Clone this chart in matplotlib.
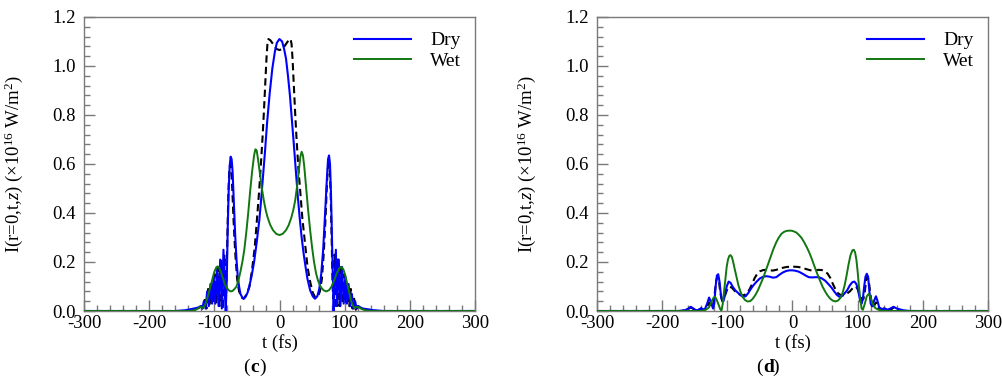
import numpy as np
import matplotlib
matplotlib.use("Agg")
import matplotlib.pyplot as plt
from matplotlib.ticker import MultipleLocator

plt.rcParams['font.family'] = ['Liberation Serif', 'DejaVu Serif']
plt.rcParams['mathtext.fontset'] = 'custom'
plt.rcParams['mathtext.rm'] = 'Liberation Serif'
plt.rcParams['mathtext.it'] = 'Liberation Serif:italic'
plt.rcParams['mathtext.bf'] = 'Liberation Serif:bold'
plt.rcParams['axes.unicode_minus'] = False

# ---------------- panel (c) ----------------
c_dry_t = [-300, -160, -145, -135, -128, -124, -121, -118.5, -116, -113.5, -111, -108.5, -106, -103.5,
           -101, -98.5, -96, -93.5, -91, -88.5, -86, -84, -82.5, -81, -79.5, -78, -76.5, -75, -73.5,
           -72, -70, -68, -66, -64, -62, -60, -57, -55, -52, -49, -46, -43, -39, -35, -31, -28, -25,
           -22, -19, -15, -11, -7, -4, 0, 4, 7, 10, 13, 16, 19, 22, 25, 28, 31, 34, 37, 40, 43, 47,
           51, 54.5, 58, 61, 64, 67, 70, 72.5, 74.5, 76, 77.5, 79, 80.5, 82, 83, 84.5, 86.5, 88.5,
           91, 93.5, 96, 98.5, 101, 103.5, 106, 108.5, 111, 113.5, 116, 118.5, 121, 124, 128, 135,
           145, 160, 300]
c_dry_I = [0, 0, 0.003, 0.008, 0.012, 0.015, 0.02, 0.01, 0.04, 0.01, 0.08, 0.02, 0.11, 0.03,
           0.14, 0.03, 0.17, 0.02, 0.21, 0.01, 0.25, 0.08, 0.0, 0.12, 0.33, 0.49, 0.59, 0.63, 0.62,
           0.57, 0.44, 0.31, 0.21, 0.14, 0.1, 0.07, 0.055, 0.05, 0.058, 0.075, 0.105, 0.14, 0.2,
           0.28, 0.37, 0.46, 0.56, 0.66, 0.77, 0.89, 0.99, 1.06, 1.095, 1.11, 1.10, 1.07, 1.03,
           0.96, 0.88, 0.78, 0.68, 0.575, 0.47, 0.38, 0.3, 0.235, 0.18, 0.13, 0.085, 0.06, 0.05,
           0.06, 0.09, 0.15, 0.25, 0.4, 0.53, 0.62, 0.635, 0.6, 0.48, 0.3, 0.12, 0.0, 0.1, 0.25,
           0.02, 0.21, 0.02, 0.18, 0.03, 0.14, 0.03, 0.11, 0.02, 0.07, 0.01, 0.04, 0.01, 0.02,
           0.015, 0.01, 0.007, 0.003, 0, 0]

c_ref_t = [-300, -150, -135, -125, -120, -117, -114.5, -112, -109.5, -107, -104.5, -102, -99.5, -97,
           -94.5, -92, -89.5, -87, -84.5, -82.5, -81.5, -80, -78.5, -77, -75.5, -74, -72.5, -70.5,
           -68, -65, -62, -58, -55, -50, -46, -42, -38, -35, -31.5, -29, -26, -24, -22, -20, -18.5,
           -17, -14, -10, -5, 0, 5, 10, 14, 17, 18.5, 20, 22, 24, 26, 29, 31.5, 35, 39, 43, 47, 51,
           55, 59, 62, 65, 68, 70.5, 72.5, 74, 75.5, 77, 78.5, 80, 81.5, 82.5, 84.5, 87, 89.5, 92,
           94.5, 97, 99.5, 102, 104.5, 107, 109.5, 112, 114.5, 117, 120, 125, 135, 150, 300]
c_ref_I = [0, 0, 0.005, 0.01, 0.02, 0.005, 0.05, 0.01, 0.09, 0.02, 0.12, 0.03, 0.15, 0.03,
           0.18, 0.02, 0.21, 0.01, 0.23, 0.05, 0.1, 0.3, 0.48, 0.58, 0.6, 0.58, 0.5, 0.37,
           0.24, 0.13, 0.08, 0.055, 0.05, 0.07, 0.1, 0.17, 0.26, 0.36, 0.48, 0.58, 0.71, 0.81,
           0.92, 1.03, 1.09, 1.11, 1.105, 1.09, 1.07, 1.065, 1.07, 1.09, 1.105, 1.11, 1.09, 1.03,
           0.92, 0.81, 0.71, 0.58, 0.5, 0.38, 0.28, 0.18, 0.12, 0.075, 0.055, 0.06, 0.08, 0.13,
           0.24, 0.37, 0.5, 0.58, 0.6, 0.58, 0.48, 0.3, 0.1, 0.05, 0.23, 0.01, 0.21, 0.02, 0.18,
           0.03, 0.15, 0.03, 0.12, 0.02, 0.09, 0.01, 0.05, 0.005, 0.02, 0.01, 0.005, 0, 0]

c_wet_t = [-300, -140, -130, -125, -121, -118, -115, -112, -109, -106, -103, -100, -97, -95, -93,
           -90, -87, -84, -81, -78, -75, -72, -69, -66, -63, -60, -57, -54, -51, -48, -45, -42, -39,
           -37, -35, -33, -30, -27, -24, -21, -18, -14, -10, -5, 0, 5, 10, 14, 18, 21, 24, 27, 30,
           32, 34, 36, 38, 41, 44, 47, 50, 53, 56, 59, 62, 65, 68, 72, 76, 80, 84, 88, 92, 95, 98,
           101, 104, 107, 110, 113, 116, 119, 122, 126, 132, 140, 300]
c_wet_I = [0, 0, 0.003, 0.01, 0.018, 0.012, 0.02, 0.04, 0.07, 0.1, 0.13, 0.16, 0.178, 0.182, 0.178,
           0.16, 0.135, 0.11, 0.095, 0.085, 0.08, 0.082, 0.09, 0.1, 0.125, 0.16, 0.2, 0.25, 0.32,
           0.4, 0.49, 0.57, 0.635, 0.66, 0.655, 0.62, 0.56, 0.5, 0.45, 0.41, 0.38, 0.35, 0.33,
           0.315, 0.31, 0.315, 0.33, 0.35, 0.38, 0.41, 0.45, 0.51, 0.58, 0.63, 0.65, 0.635, 0.59,
           0.5, 0.41, 0.33, 0.26, 0.2, 0.155, 0.125, 0.105, 0.092, 0.084, 0.08, 0.085, 0.1, 0.125,
           0.155, 0.175, 0.18, 0.17, 0.145, 0.11, 0.075, 0.04, 0.02, 0.012, 0.018, 0.015, 0.008,
           0.003, 0, 0]

# ---------------- panel (d) ----------------
d_dry_t = [-300, -175, -165, -160, -156, -152, -148, -144, -140, -137, -134, -131, -128, -125, -122,
           -120, -118, -116, -114, -112, -110, -108, -106, -104, -101, -98, -95, -92, -88, -84, -80,
           -76, -72, -68, -64, -60, -55, -50, -45, -40, -35, -30, -25, -20, -15, -10, -5, 0, 5, 10,
           15, 20, 25, 30, 35, 40, 45, 50, 55, 60, 64, 68, 72, 76, 80, 84, 88, 92, 95, 98, 101, 104,
           106, 108, 110, 112, 114, 116, 118, 120, 122, 125, 128, 130, 133, 137, 142, 146, 150, 155,
           160, 170, 180, 300]
d_dry_I = [0, 0, 0.003, 0.01, 0.017, 0.01, 0.003, 0.005, 0.012, 0.005, 0.01, 0.03, 0.055, 0.035, 0.01,
           0.03, 0.1, 0.145, 0.15, 0.12, 0.07, 0.04, 0.04, 0.06, 0.1, 0.12, 0.115, 0.1, 0.085, 0.075,
           0.065, 0.058, 0.06, 0.073, 0.09, 0.105, 0.12, 0.133, 0.14, 0.142, 0.14, 0.136, 0.138,
           0.148, 0.157, 0.163, 0.166, 0.166, 0.164, 0.16, 0.153, 0.145, 0.138, 0.137, 0.138, 0.138,
           0.133, 0.124, 0.11, 0.095, 0.08, 0.066, 0.058, 0.061, 0.072, 0.085, 0.105, 0.118, 0.12,
           0.11, 0.08, 0.04, 0.03, 0.05, 0.1, 0.14, 0.152, 0.14, 0.08, 0.03, 0.02, 0.04, 0.06, 0.045,
           0.015, 0.008, 0.01, 0.005, 0.01, 0.017, 0.01, 0.003, 0, 0]

d_ref_t = [-300, -170, -160, -156, -152, -145, -140, -136, -132, -128, -125, -122, -119, -117, -115,
           -113, -111, -109, -107, -104, -100, -97, -93, -88, -83, -78, -74, -70, -66, -62, -58, -54,
           -50, -45, -40, -35, -30, -25, -20, -14, -8, 0, 8, 14, 20, 25, 30, 35, 40, 45, 50, 54, 58,
           62, 66, 70, 74, 78, 83, 88, 93, 97, 100, 104, 107, 109, 111, 113, 115, 117, 119, 122,
           125, 128, 132, 136, 140, 145, 152, 156, 160, 170, 300]
d_ref_I = [0, 0, 0.008, 0.015, 0.008, 0.003, 0.01, 0.004, 0.012, 0.035, 0.02, 0.02, 0.08, 0.125, 0.14,
           0.125, 0.08, 0.05, 0.045, 0.06, 0.09, 0.1, 0.095, 0.08, 0.07, 0.064, 0.065, 0.072, 0.088,
           0.11, 0.135, 0.152, 0.162, 0.167, 0.168, 0.166, 0.165, 0.168, 0.172, 0.177, 0.18, 0.181,
           0.18, 0.177, 0.172, 0.168, 0.165, 0.166, 0.168, 0.167, 0.162, 0.152, 0.135, 0.11, 0.088,
           0.072, 0.065, 0.064, 0.07, 0.08, 0.095, 0.1, 0.09, 0.06, 0.045, 0.05, 0.08, 0.125, 0.14,
           0.125, 0.08, 0.02, 0.02, 0.035, 0.012, 0.004, 0.01, 0.003, 0.008, 0.015, 0.008, 0, 0]

d_wet_t = [-300, -140, -133, -128, -124, -121, -119, -117, -114, -111, -109, -107, -105, -103, -101,
           -99, -97, -95, -93, -91, -89, -86, -83, -80, -77, -73, -69, -65, -61, -57, -53, -49, -45,
           -41, -37, -33, -29, -25, -21, -17, -13, -9, -5, -2, 2, 6, 10, 14, 18, 22, 26, 30, 34, 38,
           42, 46, 50, 54, 58, 62, 66, 70, 74, 77, 80, 83, 86, 89, 92, 94, 96, 98, 100, 102, 104,
           106, 108, 111, 114, 117, 120, 123, 127, 132, 140, 300]
d_wet_I = [0, 0, 0.005, 0.015, 0.04, 0.055, 0.058, 0.05, 0.03, 0.008, 0.002, 0.03, 0.08, 0.13, 0.18,
           0.21, 0.225, 0.228, 0.22, 0.2, 0.175, 0.14, 0.105, 0.08, 0.06, 0.045, 0.039, 0.04, 0.05,
           0.065, 0.085, 0.11, 0.135, 0.165, 0.195, 0.225, 0.255, 0.28, 0.3, 0.315, 0.323, 0.327,
           0.328, 0.328, 0.325, 0.32, 0.31, 0.298, 0.28, 0.26, 0.237, 0.21, 0.18, 0.152, 0.125, 0.1,
           0.08, 0.063, 0.05, 0.042, 0.039, 0.043, 0.055, 0.075, 0.105, 0.145, 0.19, 0.228, 0.248,
           0.25, 0.24, 0.21, 0.16, 0.1, 0.05, 0.01, 0.005, 0.03, 0.06, 0.07, 0.055, 0.03, 0.012,
           0.005, 0, 0]

panels = [
    (c_dry_t, c_dry_I, c_wet_t, c_wet_I, c_ref_t, c_ref_I, 'c'),
    (d_dry_t, d_dry_I, d_wet_t, d_wet_I, d_ref_t, d_ref_I, 'd'),
]

fig = plt.figure(figsize=(10.03, 3.85), dpi=100)
lefts = [84 / 1003, 597 / 1003]
label_x = [250 / 1003, 763 / 1003]
axc = '#7a7a7a'
fs = 13.5

for (dt, dI, wt, wI, rt, rI, tag), lx, px in zip(panels, lefts, label_x):
    ax = fig.add_axes([lx, 74 / 385, 391 / 1003, 294 / 385])
    ax.plot(rt, rI, color='black', lw=1.5, dashes=(3.5, 2), zorder=2)
    ax.plot(dt, dI, color='#0000ff', lw=1.5, label='Dry', zorder=3)
    ax.plot(wt, wI, color='#117711', lw=1.4, label='Wet', zorder=4)

    ax.set_xlim(-300, 300)
    ax.set_ylim(0, 1.2)
    ax.xaxis.set_major_locator(MultipleLocator(100))
    ax.xaxis.set_minor_locator(MultipleLocator(20))
    ax.yaxis.set_major_locator(MultipleLocator(0.2))
    ax.yaxis.set_minor_locator(MultipleLocator(0.04))
    ax.yaxis.set_major_formatter(matplotlib.ticker.FormatStrFormatter('%.1f'))
    ax.tick_params(which='both', direction='in', top=False, right=False, colors=axc,
                   labelcolor='black', labelsize=fs, width=1)
    ax.tick_params(which='major', length=8)
    ax.tick_params(which='minor', length=4)
    ax.tick_params(axis='x', which='major', pad=3)
    ax.tick_params(axis='y', which='major', pad=6)
    for s in ax.spines.values():
        s.set_color(axc)
        s.set_linewidth(1)

    ax.set_xlabel('t (fs)', fontsize=fs)
    ax.xaxis.set_label_coords(0.5, -0.08)
    ax.set_ylabel('I(r=0,t,$z$) (×10$^{16}$ W/m$^{2}$)', fontsize=fs)
    ax.yaxis.set_label_coords(-0.15, 0.5)

    ax.legend(loc='upper right', bbox_to_anchor=(0.965, 0.95), frameon=False, fontsize=14,
              handlelength=2.9, handletextpad=1.0, labelspacing=0.15, borderpad=0,
              borderaxespad=0)

    fig.text(px, 18 / 385, '(', fontsize=14, ha='right', va='center')
    fig.text(px, 18 / 385, tag, fontsize=14, fontweight='bold', ha='left', va='center')
    fig.text(px + 9 / 1003, 18 / 385, ')', fontsize=14, ha='left', va='center')

fig.savefig('out.png', dpi=100)
